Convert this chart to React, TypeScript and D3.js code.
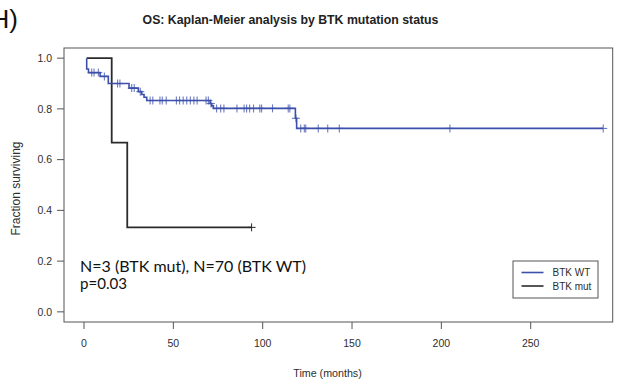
import React from "react";
import * as d3 from "d3";

// ---- data ----
const xTicks = [0, 50, 100, 150, 200, 250];
const yTicks = [0, 0.2, 0.4, 0.6, 0.8, 1.0];
const startTime = 1.5;

const wtEventTimes = [1.5, 2.5, 9.0, 13.6, 25.2, 30.4, 32.3, 33.6, 35.1, 70.6, 71.5, 72.4, 118.3, 119.0];
const wtSurvival = [0.957, 0.943, 0.928, 0.9, 0.882, 0.868, 0.857, 0.846, 0.833, 0.821, 0.812, 0.802, 0.763, 0.723];
const wtCensorTimes = [
  4.3, 5.6, 8.0, 11.4, 18.8, 20.1, 26.7, 28.1, 31.5,
  37.0, 38.5, 42.5, 43.8, 46.0, 51.7, 53.5, 55.5, 57.5, 59.5, 61.5, 63.3, 68.3, 69.6,
  71.0, 74.2, 76.5, 78.3, 85.6, 89.6, 91.0, 92.7, 94.9, 98.4, 99.4, 105.5, 114.3, 115.2,
  118.6, 121.3, 123.3, 124.1, 131.1, 136.4, 142.9, 204.8, 290.6,
];

const mutEventTimes = [15.5, 24.2];
const mutSurvival = [0.667, 0.333];
const mutCensorTimes = [93.8];

const legendLabels = ["BTK WT", "BTK mut"];
const titleText = "OS: Kaplan-Meier analysis by BTK mutation status";
const annotationLines = ["N=3 (BTK mut), N=70 (BTK WT)", "p=0.03"];

// ---- layout ----
const W = 617;
const H = 381;
const left = 64;
const right = 612.7;
const top = 48;
const bottom = 322;
const WT_COLOR = "#3c50ab";
const MUT_COLOR = "#2b2b2b";
const AXIS_COLOR = "#555";
const TEXT_COLOR = "#2e2e2e";
const SANS = "'Liberation Sans', Arial, Helvetica, sans-serif";

const x = d3.scaleLinear().domain([-11.2, 295.9]).range([left, right]);
const y = d3.scaleLinear().domain([-0.04, 1.04]).range([bottom, top]);

type Pt = [number, number];

function stepPoints(times: number[], surv: number[], endTime: number): Pt[] {
  const pts: Pt[] = [[startTime, 1]];
  times.forEach((t, i) => pts.push([t, surv[i]]));
  pts.push([endTime, surv[surv.length - 1]]);
  return pts;
}

function survAt(times: number[], surv: number[], t: number): number {
  let v = 1;
  times.forEach((tt, i) => {
    if (tt <= t) v = surv[i];
  });
  return v;
}

const line = d3
  .line<Pt>()
  .x((d) => x(d[0]))
  .y((d) => y(d[1]))
  .curve(d3.curveStepAfter);

export default function App() {
  const wtEnd = wtCensorTimes[wtCensorTimes.length - 1];
  const mutEnd = mutCensorTimes[mutCensorTimes.length - 1];
  const wtPath = line(stepPoints(wtEventTimes, wtSurvival, wtEnd)) || "";
  const mutPath = line(stepPoints(mutEventTimes, mutSurvival, mutEnd)) || "";
  const m = 4; // censor mark half-size

  const legX = 513;
  const legY = 261;
  const legW = 85;
  const legH = 37;

  return (
    <svg
      width={W}
      height={H}
      style={{ position: "absolute", left: 0, top: 0, background: "#fff" }}
      fontFamily={SANS}
    >
      <rect x={0} y={0} width={W} height={H} fill="#fff" />
      {/* panel letter */}
      <text x={-9.5} y={28} fontSize={26} fill="#111" fontFamily={SANS}>
        H)
      </text>
      {/* title */}
      <text x={290.5} y={24} fontSize={12.3} fontWeight="bold" textAnchor="middle" fill="#222">
        {titleText}
      </text>

      {/* plot box */}
      <rect x={left} y={top} width={right - left} height={bottom - top} fill="none" stroke={AXIS_COLOR} strokeWidth={1} />

      {/* y axis */}
      {yTicks.map((v) => (
        <g key={"y" + v}>
          <line x1={left - 7} x2={left} y1={y(v)} y2={y(v)} stroke={AXIS_COLOR} />
          <text x={left - 12} y={y(v) + 3.8} fontSize={10.5} textAnchor="end" fill={TEXT_COLOR}>
            {v.toFixed(1)}
          </text>
        </g>
      ))}
      <text
        transform={`translate(19.5, 188.5) rotate(-90)`}
        fontSize={12}
        textAnchor="middle"
        fill={TEXT_COLOR}
      >
        Fraction surviving
      </text>

      {/* x axis */}
      {xTicks.map((v) => (
        <g key={"x" + v}>
          <line x1={x(v)} x2={x(v)} y1={bottom} y2={bottom + 7} stroke={AXIS_COLOR} />
          <text x={x(v)} y={347} fontSize={10.5} textAnchor="middle" fill={TEXT_COLOR}>
            {v}
          </text>
        </g>
      ))}
      <text x={327.5} y={376.5} fontSize={10.7} textAnchor="middle" fill={TEXT_COLOR}>
        Time (months)
      </text>

      {/* curves */}
      <path d={mutPath} fill="none" stroke={MUT_COLOR} strokeWidth={1.8} />
      <path d={wtPath} fill="none" stroke={WT_COLOR} strokeWidth={1.6} />

      {/* censor marks */}
      {wtCensorTimes.map((t, i) => {
        const cx = x(t);
        const cy = y(survAt(wtEventTimes, wtSurvival, t));
        return (
          <g key={"wc" + i} stroke={WT_COLOR} strokeWidth={1.1} opacity={0.75}>
            <line x1={cx} x2={cx} y1={cy - m} y2={cy + m} />
            <line x1={cx - m} x2={cx + m} y1={cy} y2={cy} />
          </g>
        );
      })}
      {mutCensorTimes.map((t, i) => {
        const cx = x(t);
        const cy = y(survAt(mutEventTimes, mutSurvival, t));
        return (
          <g key={"mc" + i} stroke={MUT_COLOR} strokeWidth={1}>
            <line x1={cx} x2={cx} y1={cy - m} y2={cy + m} />
            <line x1={cx - m} x2={cx + m} y1={cy} y2={cy} />
          </g>
        );
      })}

      {/* annotation */}
      <text x={80} y={271.5} fontSize={15.5} fill="#111" fontFamily="Lato, 'Open Sans', sans-serif" textLength={226} lengthAdjust="spacingAndGlyphs">
        {annotationLines[0]}
      </text>
      <text x={80} y={288.5} fontSize={15.5} fill="#111" fontFamily="Lato, 'Open Sans', sans-serif" textLength={47} lengthAdjust="spacingAndGlyphs">
        {annotationLines[1]}
      </text>

      {/* legend */}
      <rect x={legX} y={legY} width={legW} height={legH} fill="#fff" stroke={AXIS_COLOR} strokeWidth={1} />
      {legendLabels.map((lab, i) => {
        const ly = legY + 11.5 + i * 13.5;
        return (
          <g key={lab}>
            <line x1={521.5} x2={543.5} y1={ly} y2={ly} stroke={i === 0 ? WT_COLOR : MUT_COLOR} strokeWidth={1.6} />
            <text x={552.5} y={ly + 3.6} fontSize={10} fill={TEXT_COLOR}>
              {lab}
            </text>
          </g>
        );
      })}
    </svg>
  );
}
